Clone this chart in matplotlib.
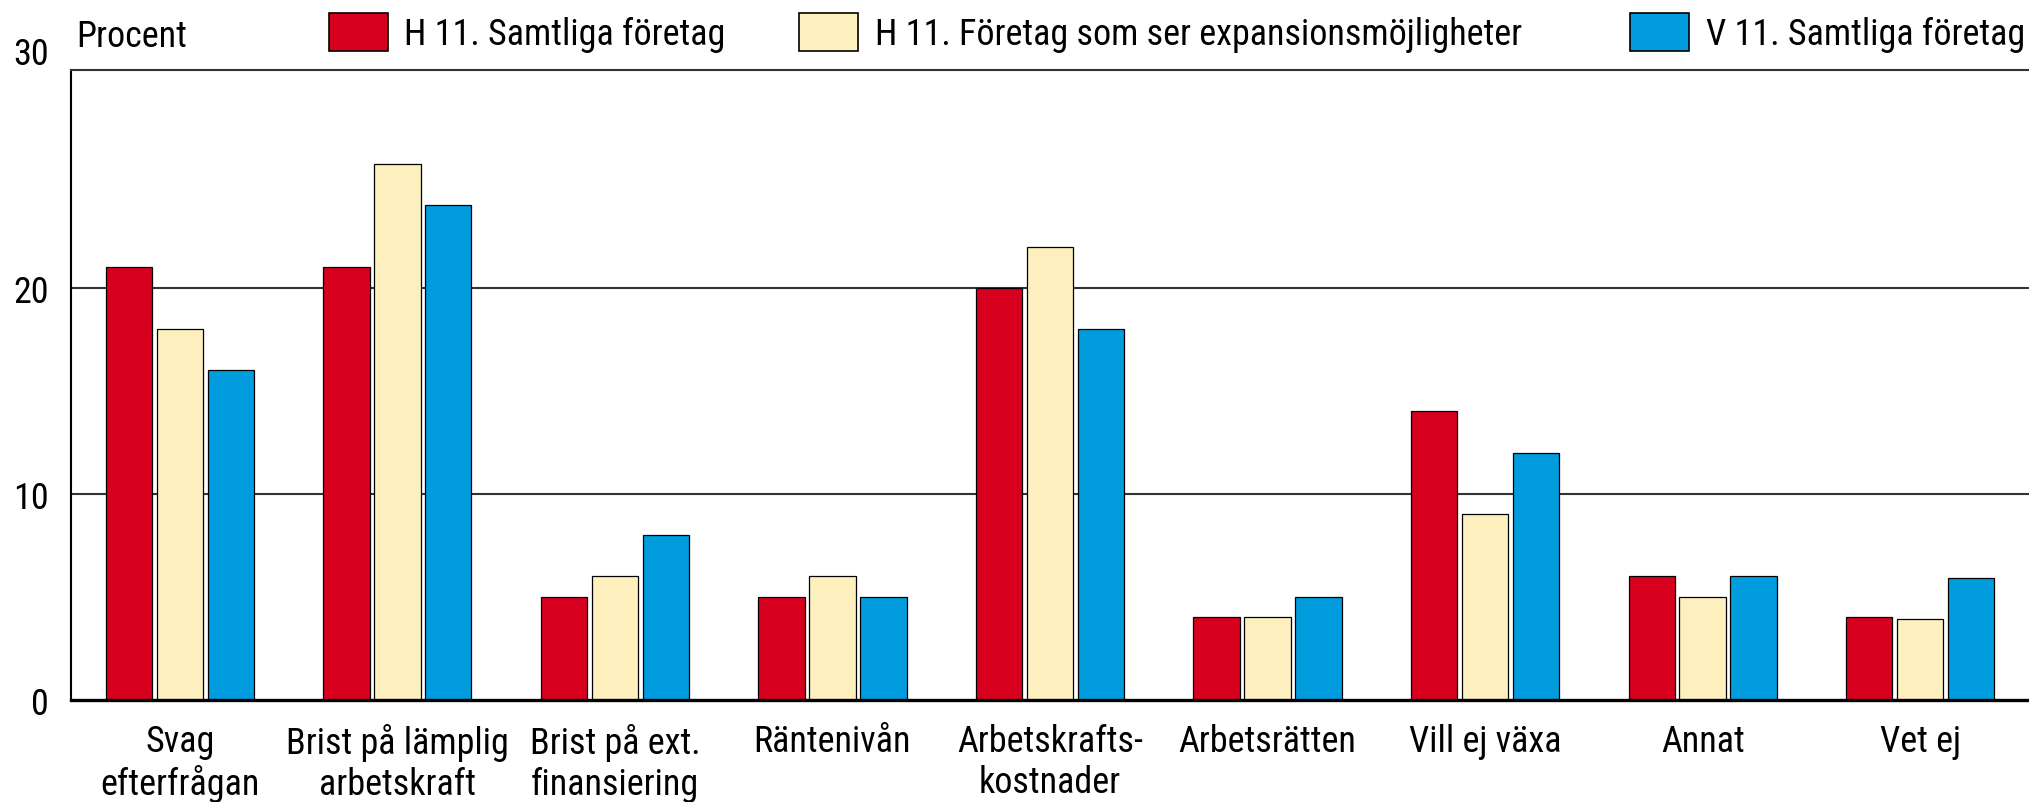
import matplotlib
matplotlib.use("Agg")
import matplotlib.pyplot as plt
import matplotlib.transforms as mtransforms
import numpy as np
from matplotlib.patches import Rectangle

categories = ["Svag\nefterfrågan", "Brist på lämplig\narbetskraft", "Brist på ext.\nfinansiering",
              "Räntenivån", "Arbetskrafts-\nkostnader", "Arbetsrätten", "Vill ej växa", "Annat", "Vet ej"]
series_names = ["H 11. Samtliga företag", "H 11. Företag som ser expansionsmöjligheter",
                "V 11. Samtliga företag"]
h11_all = [21, 21, 5, 5, 20, 4, 14, 6, 4]
h11_exp = [18, 26, 6, 6, 22, 4, 9, 5, 3.9]
v11_all = [16, 24, 8, 5, 18, 5, 12, 6, 5.9]
y_ticks = [0, 10, 20]
y_top_label = "30"
unit_label = "Procent"

colors = ["#D7001E", "#FDF0BE", "#009CDE"]
plt.rcParams['font.family'] = ["Roboto Condensed", "Archivo Narrow", "Liberation Sans", "DejaVu Sans"]
FS = 26

fig = plt.figure(figsize=(20.29, 8.03), dpi=100)
ax = fig.add_axes([0.035, 0.1274, 0.965, 0.7842])

x = np.arange(len(categories))
step = 0.234
width = 0.213
for i, vals in enumerate([h11_all, h11_exp, v11_all]):
    ax.bar(x + (i - 1) * step, vals, width=width, color=colors[i], edgecolor="black",
           linewidth=0.9, zorder=3)

ax.set_xlim(-0.5, 8.5)
ax.set_ylim(0, 30.57)
ax.set_yticks(y_ticks)
ax.set_yticklabels([str(t) for t in y_ticks])
ax.set_xticks(x)
ax.set_xticklabels(categories, linespacing=1.15)
ax.tick_params(axis="both", length=0, labelsize=FS)
ax.tick_params(axis="y", pad=16)
ax.tick_params(axis="x", pad=17)

for y in [10, 20]:
    ax.axhline(y, color="#333333", linewidth=1.5, zorder=1)

ax.spines["right"].set_visible(False)
ax.spines["top"].set_color("#333333")
ax.spines["top"].set_linewidth(1.5)
ax.spines["left"].set_linewidth(1.5)
ax.spines["bottom"].set_linewidth(2.4)
ax.spines["bottom"].set_zorder(4)

# top "30" label (sits above the frame line in the reference)
offset = mtransforms.offset_copy(ax.transData, fig=fig, x=-22, y=0, units="dots")
ax.text(-0.5, 31.35, y_top_label, transform=offset, ha="right", va="center",
        fontsize=FS, clip_on=False)

fig.text(76 / 2029, 1 - 37 / 803, unit_label, ha="left", va="center", fontsize=FS)

# legend drawn manually
patch_x = [329, 799, 1630]
text_x = [404.5, 875, 1706]
for i in range(3):
    fig.patches.append(Rectangle((patch_x[i] / 2029, 1 - 52 / 803), 59 / 2029, 38 / 803,
                                 transform=fig.transFigure, facecolor=colors[i],
                                 edgecolor="black", linewidth=1.2))
    fig.text(text_x[i] / 2029, 1 - 35 / 803, series_names[i], ha="left", va="center",
             fontsize=FS)

fig.savefig("out.png", dpi=100)
